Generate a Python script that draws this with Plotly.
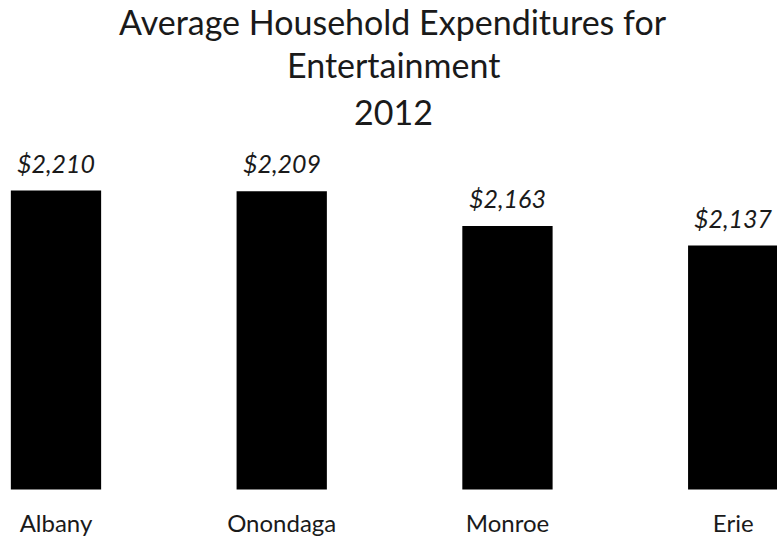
import plotly.graph_objects as go

# Average household spending on entertainment, 2012
counties = ["Albany", "Onondaga", "Monroe", "Erie"]
spending = [2210, 2209, 2163, 2137]

title_lines = ["Average Household Expenditures for", "Entertainment", "2012"]

FONT = "Lato, 'Open Sans', sans-serif"
TEXT_COLOR = "#1a1a1a"

fig = go.Figure(
    go.Bar(
        x=counties,
        y=spending,
        marker=dict(color="#000000", line=dict(width=0)),
        width=0.4,
        hoverinfo="x+y",
    )
)

# Value labels above each bar
for county, value in zip(counties, spending):
    fig.add_annotation(
        x=county,
        y=value,
        text=f"<i>${value:,}</i>",
        showarrow=False,
        yanchor="bottom",
        yshift=11,
        font=dict(family=FONT, size=25, color=TEXT_COLOR),
    )

# Three-line centred title
title_y = [0.961, 0.881, 0.795]
for line, ty in zip(title_lines, title_y):
    fig.add_annotation(
        xref="paper",
        yref="paper",
        x=0.5058,
        y=ty,
        text=line,
        showarrow=False,
        xanchor="center",
        yanchor="middle",
        font=dict(family=FONT, size=34, color=TEXT_COLOR),
    )

fig.update_layout(
    width=777,
    height=542,
    margin=dict(l=0, r=0, t=0, b=0),
    paper_bgcolor="white",
    plot_bgcolor="white",
    showlegend=False,
    font=dict(family=FONT, color=TEXT_COLOR),
    xaxis=dict(
        range=[-0.248, 3.194],
        showgrid=False,
        zeroline=False,
        showline=False,
        ticks="",
        ticklabelstandoff=18,
        tickfont=dict(family=FONT, size=24, color=TEXT_COLOR),
    ),
    yaxis=dict(
        range=[1813, 2300],
        domain=[0.0969, 0.7734],
        visible=False,
        showgrid=False,
        zeroline=False,
    ),
)

fig.write_html("out.html")
